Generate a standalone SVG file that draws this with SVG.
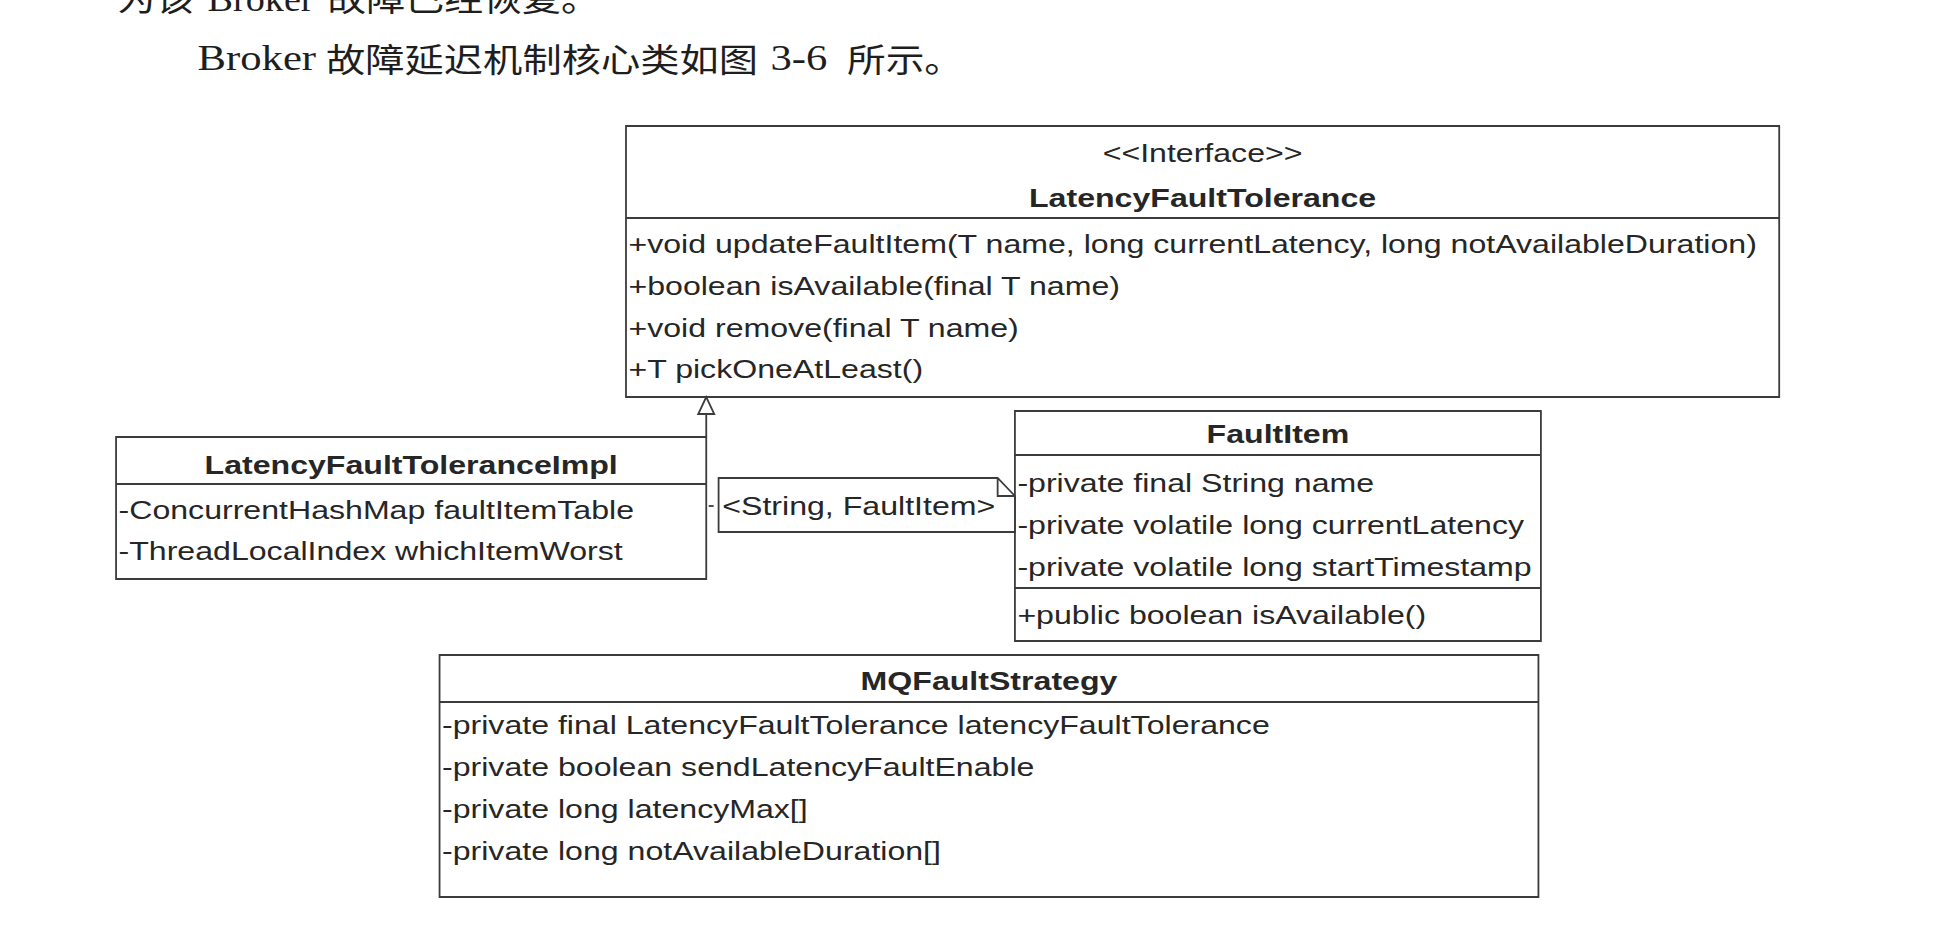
<svg xmlns="http://www.w3.org/2000/svg" width="1936" height="936" viewBox="0 0 1936 936">
<style>
.box{fill:#fff;stroke:#3c3c3c;stroke-width:1.8;vector-effect:non-scaling-stroke}
.ln{fill:none;stroke:#3c3c3c;stroke-width:1.8;vector-effect:non-scaling-stroke}
.t{font-family:"Liberation Sans",Arial,sans-serif;font-size:26px;fill:#262626}
.c{text-anchor:middle}
.b{font-weight:bold;text-anchor:middle}
.lat{font-family:"Liberation Serif","Times New Roman",serif;font-size:35px;fill:#1e1e1e}
.cjk{font-family:"Noto Sans CJK SC","Noto Sans CJK TC",sans-serif;font-size:33px;fill:#1e1e1e}
</style>
<rect width="1936" height="936" fill="#fff"/>
<g transform="scale(1.2347,1)">
<g id="body-text">
<text class="cjk" x="95" y="11" textLength="62" lengthAdjust="spacingAndGlyphs">为该</text>
<text class="lat" x="168" y="11" textLength="86" lengthAdjust="spacingAndGlyphs">Broker</text>
<text class="cjk" x="265" y="11" textLength="221" lengthAdjust="spacingAndGlyphs">故障已经恢复。</text>
<text class="lat" x="160" y="70" textLength="96" lengthAdjust="spacingAndGlyphs">Broker</text>
<text class="cjk" x="264" y="72" textLength="350" lengthAdjust="spacingAndGlyphs">故障延迟机制核心类如图</text>
<text class="lat" x="624" y="70" textLength="46" lengthAdjust="spacingAndGlyphs">3-6</text>
<text class="cjk" x="686" y="72" textLength="94" lengthAdjust="spacingAndGlyphs">所示。</text>
</g>
<g id="LatencyFaultTolerance">
<rect class="box" x="507" y="126" width="934" height="271"/>
<line class="ln" x1="507" y1="218" x2="1441" y2="218"/>
<text class="t c" x="974" y="162">&lt;&lt;Interface&gt;&gt;</text>
<text class="t b" x="974" y="207">LatencyFaultTolerance</text>
<text class="t" x="509" y="253">+void updateFaultItem(T name, long currentLatency, long notAvailableDuration)</text>
<text class="t" x="509" y="295">+boolean isAvailable(final T name)</text>
<text class="t" x="509" y="337">+void remove(final T name)</text>
<text class="t" x="509" y="378">+T pickOneAtLeast()</text>
</g>
<g id="LatencyFaultToleranceImpl">
<rect class="box" x="94" y="437" width="478" height="142"/>
<line class="ln" x1="94" y1="484" x2="572" y2="484"/>
<text class="t b" x="333" y="474">LatencyFaultToleranceImpl</text>
<text class="t" x="96" y="519">-ConcurrentHashMap faultItemTable</text>
<text class="t" x="96" y="560">-ThreadLocalIndex whichItemWorst</text>
</g>
<g id="FaultItem">
<rect class="box" x="822" y="411" width="426" height="230"/>
<line class="ln" x1="822" y1="455" x2="1248" y2="455"/>
<line class="ln" x1="822" y1="588" x2="1248" y2="588"/>
<text class="t b" x="1035" y="443">FaultItem</text>
<text class="t" x="824" y="492">-private final String name</text>
<text class="t" x="824" y="534">-private volatile long currentLatency</text>
<text class="t" x="824" y="576">-private volatile long startTimestamp</text>
<text class="t" x="824" y="624">+public boolean isAvailable()</text>
</g>
<g id="MQFaultStrategy">
<rect class="box" x="356" y="655" width="890" height="242"/>
<line class="ln" x1="356" y1="702" x2="1246" y2="702"/>
<text class="t b" x="801" y="690">MQFaultStrategy</text>
<text class="t" x="358" y="734">-private final LatencyFaultTolerance latencyFaultTolerance</text>
<text class="t" x="358" y="776">-private boolean sendLatencyFaultEnable</text>
<text class="t" x="358" y="818">-private long latencyMax[]</text>
<text class="t" x="358" y="860">-private long notAvailableDuration[]</text>
</g>
<g id="note">
<path class="box" d="M582,478 H808 L822,496 V532 H582 Z"/>
<path class="ln" d="M808,478 V496 H822"/>
<text class="t" x="585" y="515">&lt;String, FaultItem&gt;</text>
</g>
<g id="connectors">
<line class="ln" x1="572" y1="437" x2="572" y2="414"/>
<polygon class="box" points="572,397 565.5,414 578.5,414"/>
<line class="ln" x1="574" y1="506" x2="578" y2="506"/>
</g>
</g>
</svg>
